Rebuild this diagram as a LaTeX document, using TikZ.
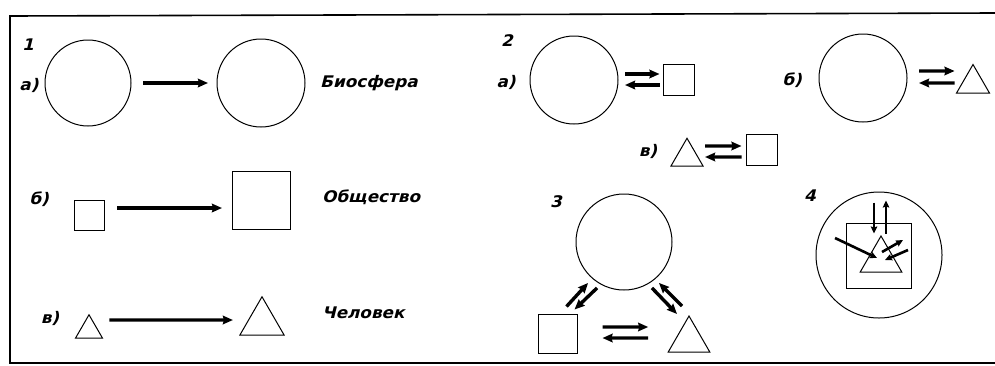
\documentclass[tikz,border=0pt]{standalone}
\usepackage{fontspec}
\newfontfamily\draftfont[FakeSlant=0.25,FakeStretch=1.05]{DejaVu Sans}
\usetikzlibrary{shapes.geometric, arrows.meta, calc}

\begin{document}
\begin{tikzpicture}[x=1pt, y=-1pt,
    outline/.style={draw, line width=1pt, inner sep=0pt, outer sep=0pt},
    ring/.style={outline, circle, minimum size=#1},
    box/.style={outline, rectangle, minimum size=#1},
    tri/.style={outline, regular polygon, regular polygon sides=3, minimum size=#1, anchor=south},
    flow/.style={line width=3.4pt, -{Stealth[length=10pt, width=8.5pt, inset=1pt]}},
    thinflow/.style={line width=2.6pt, -{Stealth[length=7pt, width=6.5pt, inset=1pt]}},
    tag/.style={font=\draftfont\bfseries\fontsize{16}{16}\selectfont, inner sep=0pt},
    word/.style={font=\draftfont\bfseries\fontsize{16}{16}\selectfont, inner sep=0pt, anchor=west},
    ]
\useasboundingbox (0,0) rectangle (995,365);
% frame
\draw[line width=1.6pt] (995,13) -- (10,16) -- (10,363) -- (995,363);

% 1 a)
\node[tag] (n1) at (28,45) {1};
\node[tag] (l1a) at (29,85) {а)};
\node[ring=86] (c1a) at (88,83) {};
\node[ring=88] (c1b) at (261,83) {};
\node[word] (bio) at (320,83) {Биосфера};
\draw[flow] ($(c1a.east)+(12,0)$) -- ($(c1b.west)+(-9,0)$);

% 1 b)
\node[tag] (l1b) at (39,199) {б)};
\node[box=30] (s1a) at (89,215) {};
\node[box=58] (s1b) at (261,200) {};
\node[word] (soc) at (322,197) {Общество};
\draw[flow] ($(s1a.east)+(13,-7)$) -- ($(s1b.west)+(-10,8)$);

% 1 v)
\node[tag] (l1c) at (50,318) {в)};
\node[tri=31] (t1a) at (89,338) {};
\node[tri=51] (t1b) at (262,335) {};
\node[word] (man) at (322,313) {Человек};
\draw[flow] ($(t1a.corner 3)+(7,-18)$) -- ($(t1b.corner 2)+(-7,-15)$);

% 2 a)
\node[tag] (n2) at (507,41) {2};
\node[tag] (l2a) at (506,82) {а)};
\node[ring=88] (c2a) at (574,80) {};
\node[box=31] (s2a) at (679,80) {};
\draw[flow] ($(c2a.east)+(7,-6)$) -- ($(s2a.west)+(-4,-6)$);
\draw[flow] ($(s2a.west)+(-4,5)$) -- ($(c2a.east)+(7,5)$);

% 2 b)
\node[tag] (l2b) at (792,80) {б)};
\node[ring=88] (c2b) at (863,78) {};
\node[tri=38] (t2b) at (973,93) {};
\draw[flow] ($(c2b.east)+(12,-7)$) -- ($(t2b.corner 2)+(-2,-22)$);
\draw[flow] ($(t2b.corner 2)+(-2,-10)$) -- ($(c2b.east)+(12,5)$);

% 2 v)
\node[tag] (l2c) at (648,151) {в)};
\node[tri=37] (t2c) at (687,166) {};
\node[box=31] (s2c) at (762,150) {};
\draw[flow] ($(t2c.corner 3)+(2,-20)$) -- ($(s2c.west)+(-5,-4)$);
\draw[flow] ($(s2c.west)+(-5,7)$) -- ($(t2c.corner 3)+(2,-9)$);

% 3
\node[tag] (n3) at (556,202) {3};
\node[ring=96] (c3) at (624,242) {};
\node[box=39] (s3) at (558,334) {};
\node[tri=48] (t3) at (689,352) {};
\draw[flow] ($(s3.north east)+(-11,-8)$) -- ($(c3.225)+(-2,7)$);
\draw[flow] ($(c3.225)+(7,12)$) -- ($(s3.north east)+(-3,-5)$);
\draw[flow] ($(c3.315)+(-6,12)$) -- ($(t3.corner 1)+(-12,-2)$);
\draw[flow] ($(t3.corner 1)+(-7,-10)$) -- ($(c3.315)+(1,7)$);
\draw[flow] ($(s3.east)+(25,-7)$) -- ($(t3.corner 2)+(-20,-25)$);
\draw[flow] ($(t3.corner 2)+(-20,-14)$) -- ($(s3.east)+(25,4)$);

% 4
\node[tag] (n4) at (810,196) {4};
\node[ring=126] (c4) at (879,255) {};
\node[box=65] (s4) at (879,256) {};
\node[tri=48] (t4) at (881,272) {};
\draw[thinflow] ($(s4.north)+(-5,-21)$) -- ($(s4.north)+(-5,10)$);
\draw[thinflow] ($(s4.north)+(7,10)$) -- ($(s4.north)+(7,-23)$);
\draw[thinflow] ($(t4.corner 1)+(-46,2)$) -- ($(t4.corner 1)+(-4,22)$);
\draw[thinflow] ($(t4.corner 1)+(1,16)$) -- ($(t4.corner 1)+(22,4)$);
\draw[thinflow] ($(t4.corner 1)+(27,14)$) -- ($(t4.corner 1)+(4,24)$);
\end{tikzpicture}
\end{document}
